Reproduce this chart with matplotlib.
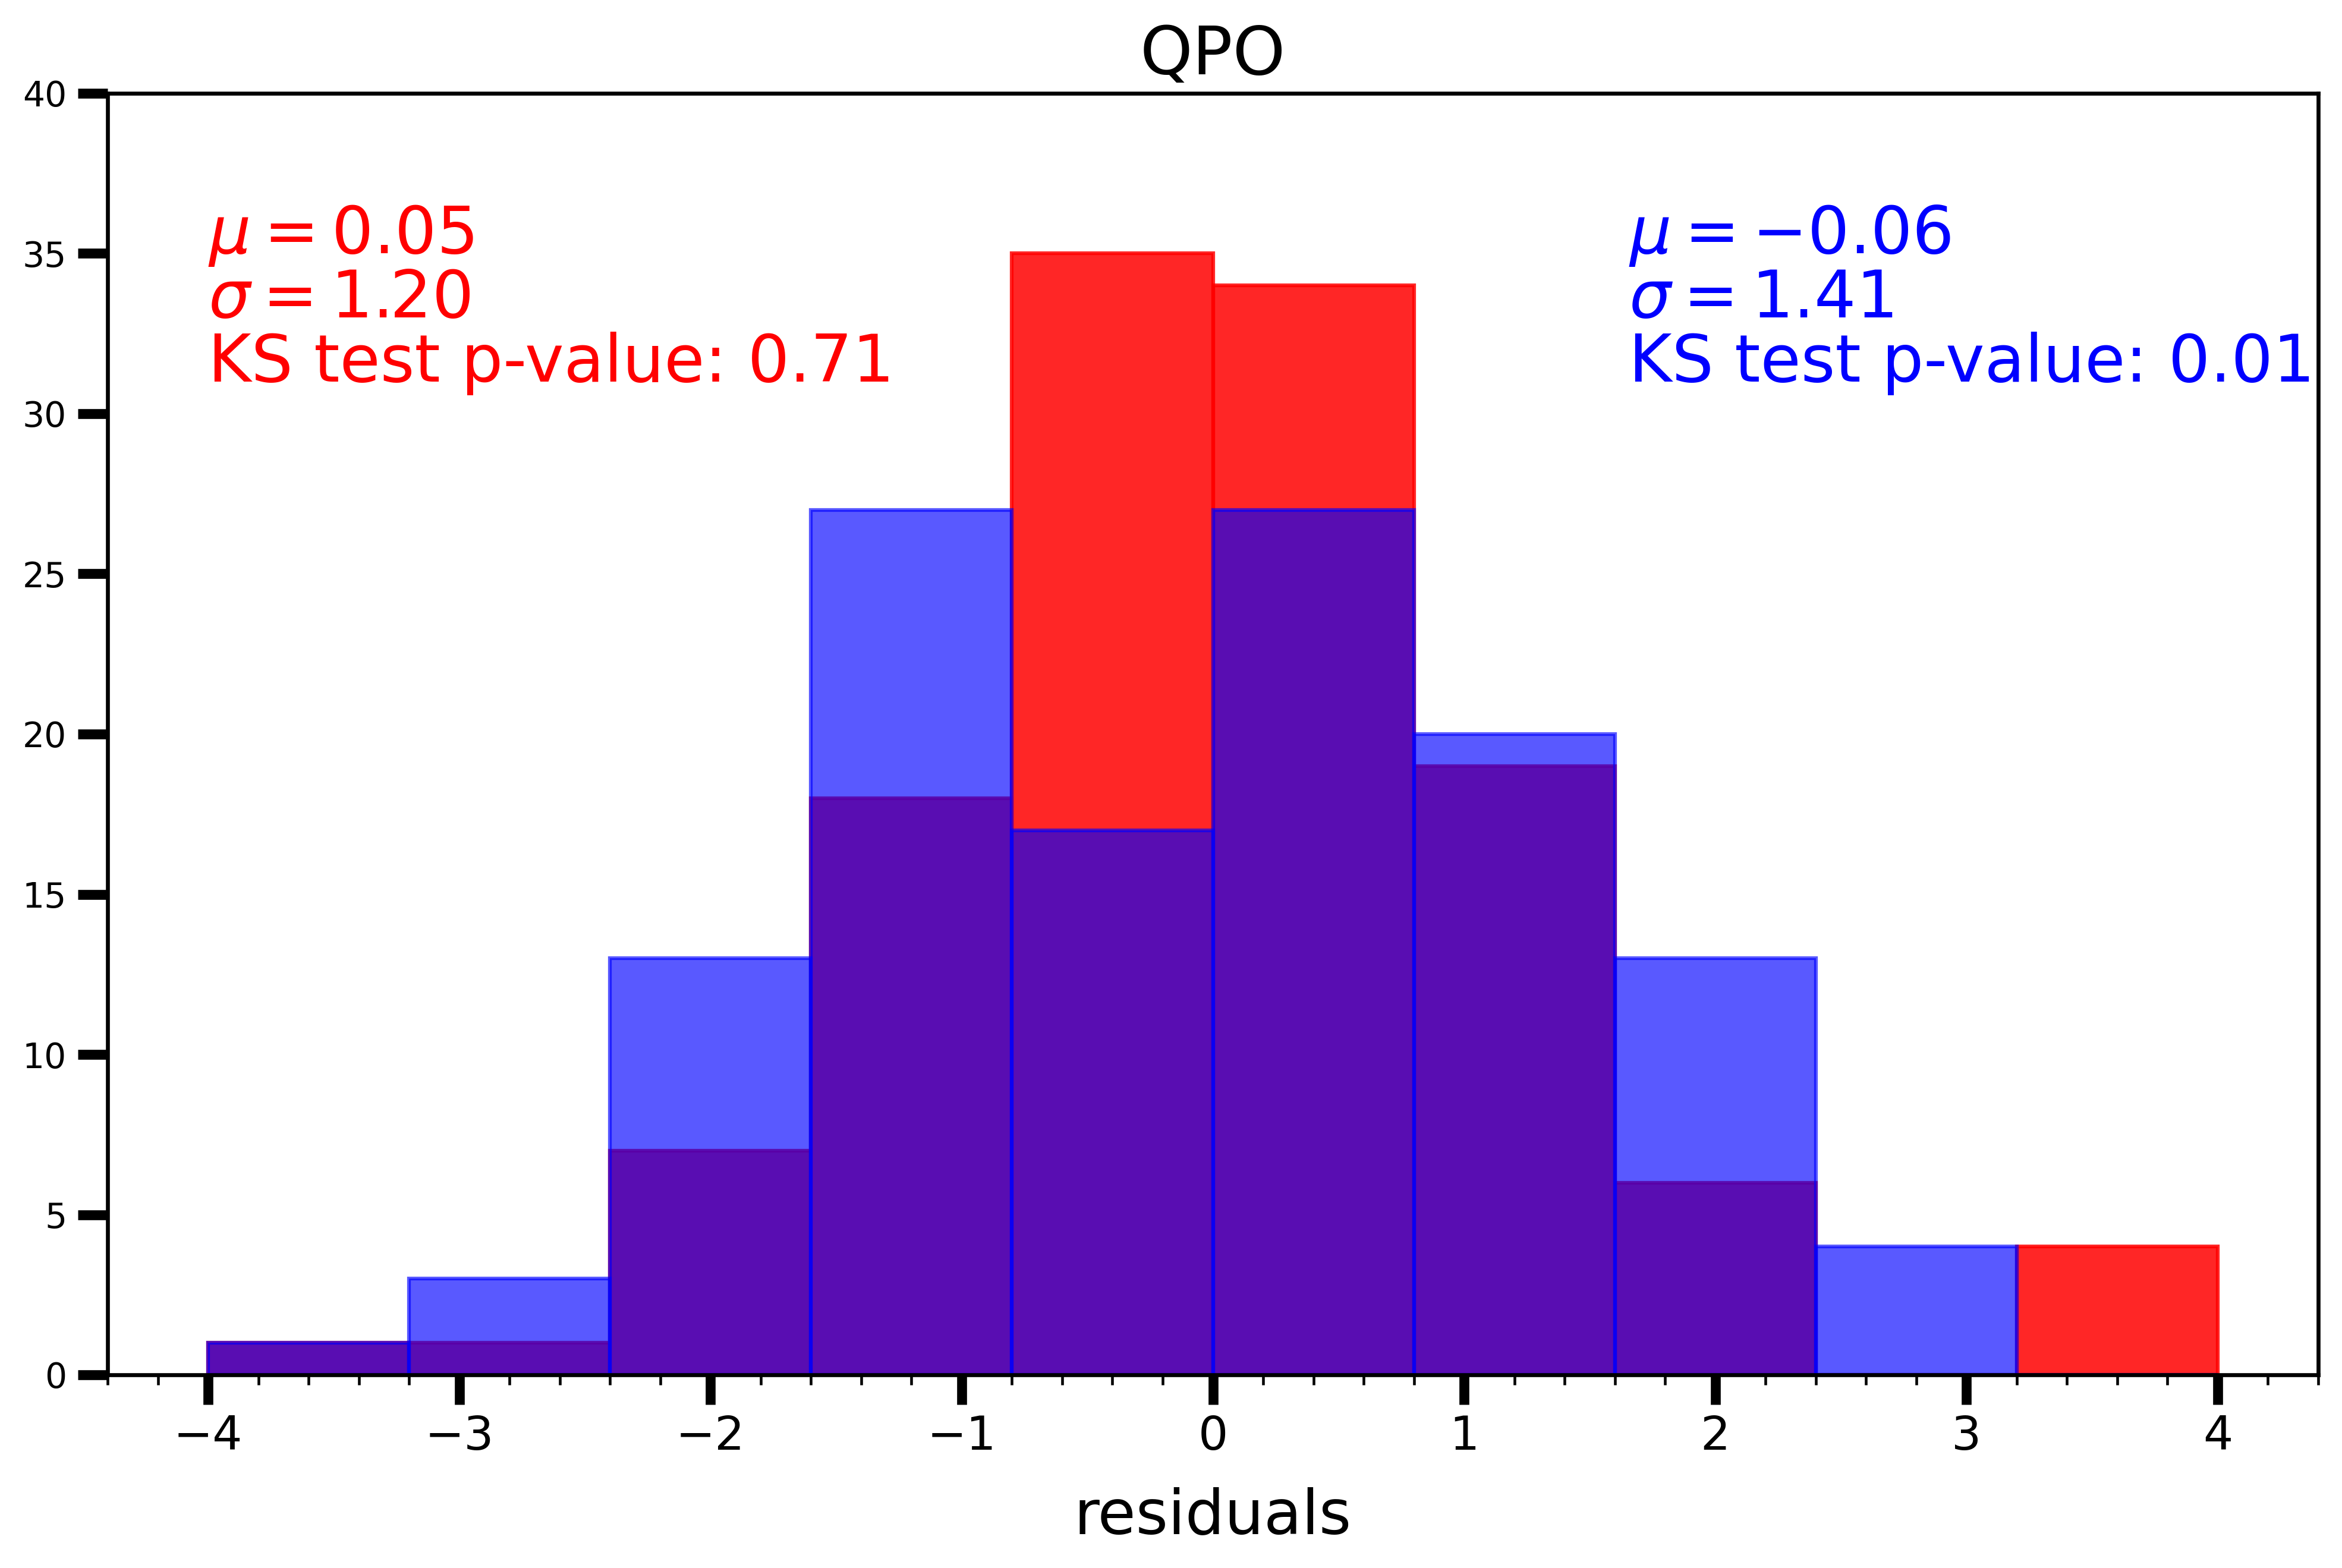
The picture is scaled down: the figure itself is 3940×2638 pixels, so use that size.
import matplotlib
matplotlib.use("Agg")
import matplotlib.pyplot as plt
from matplotlib.ticker import MultipleLocator
import numpy as np

# ---- data ----
bin_edges = [-4.0, -3.2, -2.4, -1.6, -0.8, 0.0, 0.8, 1.6, 2.4, 3.2, 4.0]
bin_centers = [-3.6, -2.8, -2.0, -1.2, -0.4, 0.4, 1.2, 2.0, 2.8, 3.6]
red_counts = [1, 1, 7, 18, 35, 34, 19, 6, 0, 4]
blue_counts = [1, 3, 13, 27, 17, 27, 20, 13, 4, 0]

red_lines = [r"$\mu = 0.05$", r"$\sigma = 1.20$", "KS test p-value: 0.71"]
blue_lines = [r"$\mu = -0.06$", r"$\sigma = 1.41$", "KS test p-value: 0.01"]
line_y = [35, 33, 31]
red_text_x = -4.0
blue_text_x = 1.655

title = "QPO"
xlabel = "residuals"
yticks = [0, 5, 10, 15, 20, 25, 30, 35, 40]

# ---- figure ----
W, H, DPI = 3940, 2638, 300
fig = plt.figure(figsize=(W / DPI, H / DPI), dpi=DPI)
ax = fig.add_axes([181 / W, 1 - 2313 / H, 3719 / W, 2156 / H])

ax.hist(bin_centers, bins=bin_edges, weights=red_counts,
        color="red", edgecolor="red", alpha=0.85, linewidth=1.5)
ax.hist(bin_centers, bins=bin_edges, weights=blue_counts,
        color="blue", edgecolor="blue", alpha=0.65, linewidth=1.5)

ax.set_ylim(0, 40)
ax.set_yticks(yticks)
ax.xaxis.set_minor_locator(MultipleLocator(0.2))

for s in ax.spines.values():
    s.set_linewidth(1.6)

ax.tick_params(axis="x", which="major", length=12, width=4, labelsize=19, pad=3.8)
ax.tick_params(axis="x", which="minor", length=4, width=1.1)
ax.tick_params(axis="y", which="major", length=12, width=4, labelsize=14, pad=4.5)

ax.set_title(title, fontsize=27, pad=7.7)
ax.set_xlabel(xlabel, fontsize=25, labelpad=11)

for txt, y in zip(red_lines, line_y):
    ax.text(red_text_x, y, txt, color="red", fontsize=26.6, va="baseline", ha="left")
for txt, y in zip(blue_lines, line_y):
    ax.text(blue_text_x, y, txt, color="blue", fontsize=26.6, va="baseline", ha="left")

fig.savefig("out.png", dpi=DPI)
